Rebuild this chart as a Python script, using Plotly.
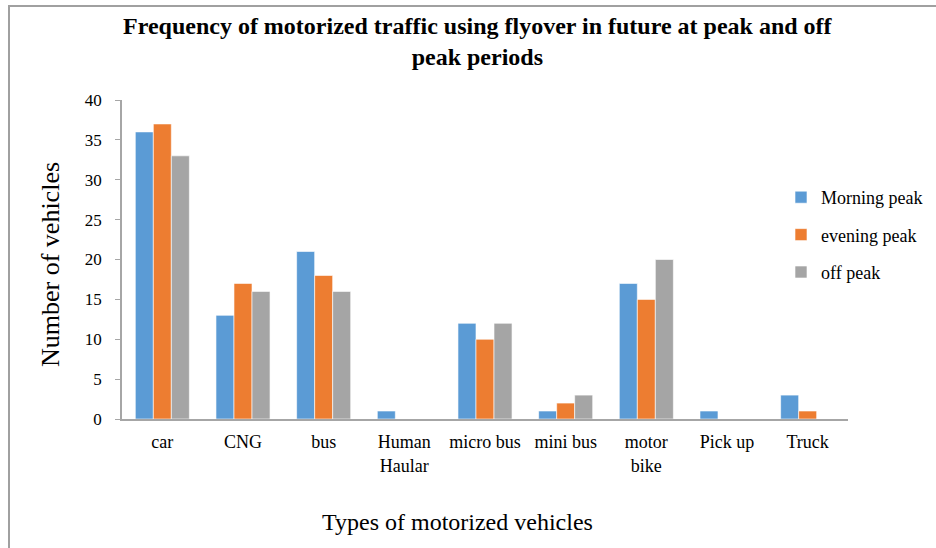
import plotly.graph_objects as go

categories = ["car", "CNG", "bus", "Human Haular", "micro bus", "mini bus", "motor bike", "Pick up", "Truck"]
tick_labels = ["car", "CNG", "bus", "Human<br>Haular", "micro bus", "mini bus", "motor<br>bike", "Pick up", "Truck"]
morning_peak = [36, 13, 21, 1, 12, 1, 17, 1, 3]
evening_peak = [37, 17, 18, 0, 10, 2, 15, 0, 1]
off_peak = [33, 16, 16, 0, 12, 3, 20, 0, 0]
series_names = ["Morning peak", "evening peak", "off peak"]
colors = ["#5B9BD5", "#ED7D31", "#A5A5A5"]

W, H = 936, 548
L, R, T, B = 122, 88, 100, 129
pw, ph = W - L - R, H - T - B

def px_x(p):
    return (p - L) / pw

def px_y(p):
    return (H - B - p) / ph

FONT = "Liberation Serif"

fig = go.Figure()
for i, (name, vals) in enumerate(zip(series_names, [morning_peak, evening_peak, off_peak])):
    fig.add_trace(go.Bar(
        x=categories, y=vals, name=name,
        marker=dict(color=colors[i], line=dict(color="rgba(255,255,255,0.6)", width=1)),
        legendgroup=name,
    ))

fig.update_layout(
    width=W, height=H,
    margin=dict(l=L, r=R, t=T, b=B, autoexpand=False),
    paper_bgcolor="white", plot_bgcolor="white",
    barmode="group", bargap=0.33, bargroupgap=0,
    font=dict(family=FONT, color="#000000", size=18),
    showlegend=True,
    legend=dict(
        x=px_x(781), xanchor="left", y=px_y(179), yanchor="top",
        font=dict(family=FONT, size=18, color="#000000"),
        traceorder="grouped", tracegroupgap=11,
        itemwidth=30, bgcolor="rgba(0,0,0,0)",
    ),
    xaxis=dict(
        tickmode="array", tickvals=categories, ticktext=tick_labels,
        showline=True, linecolor="#A6A6A6", linewidth=1.5,
        ticks="", showgrid=False, zeroline=False,
        tickfont=dict(family=FONT, size=18, color="#000000"),
        ticklabelstandoff=6,
    ),
    yaxis=dict(
        range=[0, 40], dtick=5, tick0=0,
        showline=True, linecolor="#A6A6A6", linewidth=1.5,
        ticks="outside", ticklen=5, tickcolor="#A6A6A6", tickwidth=1,
        showgrid=False, zeroline=False,
        tickfont=dict(family=FONT, size=17, color="#000000"),
        ticklabelstandoff=10,
    ),
)

fig.add_annotation(
    text="<b>Frequency of motorized traffic using flyover in future at peak and off<br>peak periods</b>",
    xref="paper", yref="paper", x=px_x(478), y=px_y(41), xanchor="center", yanchor="middle",
    showarrow=False, font=dict(family=FONT, size=24, color="#000000", weight="bold"),
)
fig.add_annotation(
    text="Types of motorized vehicles", xref="paper", yref="paper",
    x=px_x(457.5), y=px_y(522), xanchor="center", yanchor="middle",
    showarrow=False, font=dict(family=FONT, size=24, color="#000000"),
)
fig.add_annotation(
    text="Number of vehicles", xref="paper", yref="paper",
    x=px_x(50), y=px_y(265), xanchor="center", yanchor="middle",
    textangle=-90, showarrow=False, font=dict(family=FONT, size=26, color="#000000"),
)

# chart container border (top and left edges visible)
fig.add_shape(type="rect", xref="paper", yref="paper",
              x0=px_x(9), x1=px_x(W + 10), y0=px_y(H + 10), y1=px_y(6),
              line=dict(color="#A0A0A0", width=2), fillcolor="rgba(0,0,0,0)", layer="below")

fig.write_html("out.html", config={"displayModeBar": False},
               post_script="document.body.style.margin='0';document.body.style.padding='0';")
